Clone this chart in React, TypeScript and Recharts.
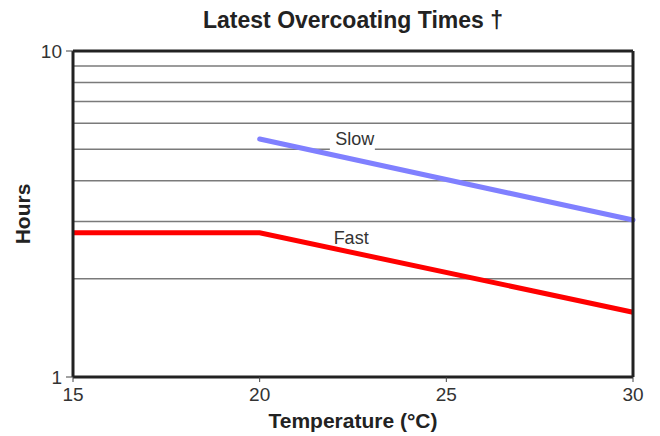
import React from 'react';
import { LineChart, Line, XAxis, YAxis, ReferenceLine, ReferenceDot } from 'recharts';

const temps = [15, 20, 30];
const fastHours = [2.77, 2.77, 1.58];
const slowHours: (number | null)[] = [null, 5.37, 3.03];
const xTicks = [15, 20, 25, 30];
const yTicks = [1, 10];
const gridValues = [2, 3, 4, 5, 6, 7, 8, 9];
const seriesLabels = [
  { name: 'Slow', t: 22.55, h: 5.37, bg: true },
  { name: 'Fast', t: 22.45, h: 2.67, bg: false },
];

const data = temps.map((t, i) => ({ t, fast: fastHours[i], slow: slowHours[i] }));

const FONT = '"Liberation Sans", Arial, Helvetica, sans-serif';

const makeLabelShape = (name: string, bg: boolean) => (p: any) => {
  const cx = p.cx;
  const cy = p.cy;
  return (
    <g>
      {bg && <rect x={cx - 25} y={cy - 9} width={45} height={20} fill="#fff" />}
      <text x={cx} y={cy} textAnchor="middle" dominantBaseline="central" fontFamily={FONT} fontSize={18} fill="#333">
        {name}
      </text>
    </g>
  );
};

export default function App() {
  return (
    <div style={{ position: 'absolute', left: 0, top: 0, width: 660, height: 436, background: '#fff' }}>
      <div
        style={{
          position: 'absolute',
          left: 73,
          width: 560,
          top: 8,
          textAlign: 'center',
          fontFamily: FONT,
          fontWeight: 'bold',
          fontSize: 23,
          lineHeight: '25px',
          color: '#222',
        }}
      >
        Latest Overcoating Times †
      </div>
      <LineChart width={660} height={436} data={data} margin={{ top: 51, right: 27, left: 0, bottom: 0 }}>
        <XAxis
          dataKey="t"
          type="number"
          domain={[15, 30]}
          ticks={xTicks}
          height={59}
          axisLine={false}
          tickLine={{ stroke: '#444' }}
          tickSize={5}
          tickMargin={6}
          tick={{ fontFamily: FONT, fontSize: 19, fill: '#333' }}
          label={{ value: 'Temperature (°C)', position: 'insideBottom', offset: 8, style: { fontFamily: FONT, fontSize: 21, fontWeight: 'bold', fill: '#222' } }}
        />
        <YAxis
          type="number"
          scale="log"
          domain={[1, 10]}
          ticks={yTicks}
          allowDataOverflow
          width={73}
          axisLine={false}
          tickLine={{ stroke: '#444' }}
          tickSize={7}
          tickMargin={4}
          tick={{ fontFamily: FONT, fontSize: 19, fill: '#333' }}
          label={{ value: 'Hours', angle: -90, position: 'center', dx: -14, style: { fontFamily: FONT, fontSize: 21, fontWeight: 'bold', fill: '#222', textAnchor: 'middle' } }}
        />
        {gridValues.map((v) => (
          <ReferenceLine key={'g' + v} y={v} stroke="#7a7a7a" strokeWidth={1.5} />
        ))}
        {seriesLabels.map((l) => (
          <ReferenceDot key={l.name} x={l.t} y={l.h} r={0} shape={makeLabelShape(l.name, l.bg)} />
        ))}
        <Line dataKey="slow" stroke="#8080ff" strokeWidth={5} dot={false} strokeLinecap="round" isAnimationActive={false} />
        <Line dataKey="fast" stroke="#ff0000" strokeWidth={5} dot={false} isAnimationActive={false} />
        <ReferenceLine x={15} stroke="#222" strokeWidth={3} />
        <ReferenceLine x={30} stroke="#222" strokeWidth={3} />
        <ReferenceLine y={1} stroke="#222" strokeWidth={3} />
        <ReferenceLine y={10} stroke="#222" strokeWidth={3} />
      </LineChart>
    </div>
  );
}
